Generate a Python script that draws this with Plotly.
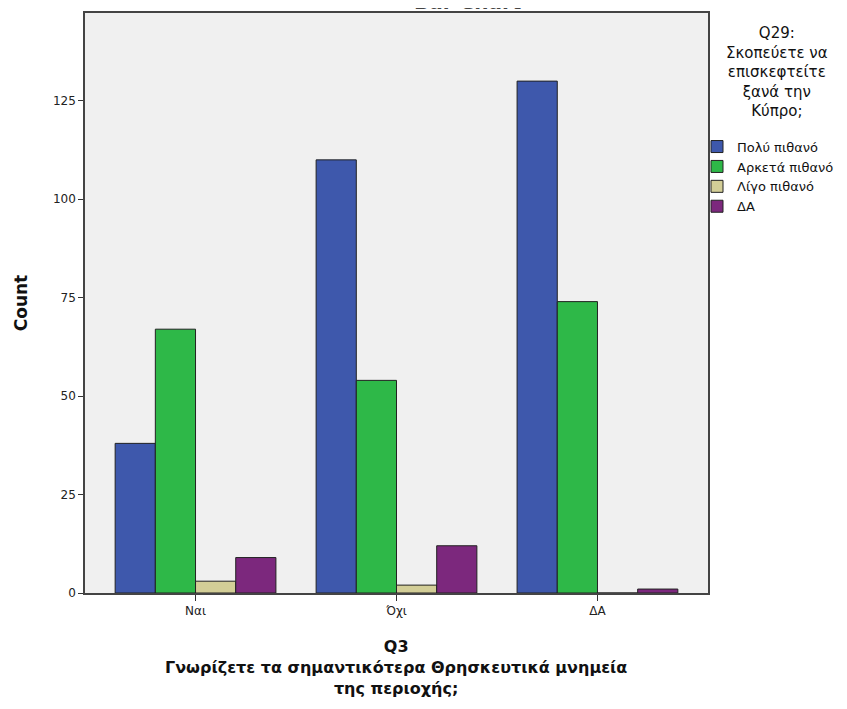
import plotly.graph_objects as go

categories = ["Ναι", "Όχι", "ΔΑ"]
series_names = ["Πολύ πιθανό", "Αρκετά πιθανό", "Λίγο πιθανό", "ΔΑ"]
very_likely = [38, 110, 130]
quite_likely = [67, 54, 74]
little_likely = [3, 2, 0]
dont_know = [9, 12, 1]
series_values = [very_likely, quite_likely, little_likely, dont_know]
colors = ["#3E58AC", "#2EB848", "#D3CE97", "#7C287D"]
y_ticks = [0, 25, 50, 75, 100, 125]
x_title = "Q3<br>Γνωρίζετε τα σημαντικότερα Θρησκευτικά μνημεία<br>της περιοχής;"
legend_title = "Q29:<br>Σκοπεύετε να<br>επισκεφτείτε<br>ξανά την<br>Κύπρο;"

FONT = "DejaVu Sans, Liberation Sans, Arial, sans-serif"

fig = go.Figure()
for name, vals, col in zip(series_names, series_values, colors):
    fig.add_trace(go.Bar(
        x=categories, y=vals, name=name,
        marker=dict(color=col, line=dict(color="#222222", width=1)),
    ))

# the page body adds an 8px offset; figure coords = page coords - 8
OFF = 8
W, H = 847 - OFF, 709 - OFF
L, T = 85 - OFF, 11 - OFF
R = W - (708 - OFF)
B = H - (593 - OFF)
plot_w = W - L - R
plot_h = H - T - B


def py(page_y):
    """page y pixel -> paper y"""
    return 1 - (page_y - OFF - T) / plot_h


def px(page_x):
    return (page_x - OFF - L) / plot_w


fig.update_layout(
    width=W, height=H,
    margin=dict(l=L, r=R, t=T, b=B, pad=0),
    barmode="group", bargap=0.2, bargroupgap=0,
    plot_bgcolor="#F0F0F0", paper_bgcolor="white",
    font=dict(family=FONT, size=12, color="#222222"),
    showlegend=True,
    legend=dict(
        x=px(697), xanchor="left",
        y=py(130), yanchor="top",
        font=dict(family=FONT, size=13, color="#111111"),
        bgcolor="rgba(0,0,0,0)", borderwidth=0,
        tracegroupgap=0, itemclick=False,
    ),
    xaxis=dict(
        range=[-0.55, 2.55], showgrid=False, zeroline=False,
        showline=True, linecolor="#444444", linewidth=1.5, mirror=True,
        ticks="outside", ticklen=6, tickcolor="#333333", tickwidth=1,
        tickfont=dict(family=FONT, size=12, color="#222222"),
    ),
    yaxis=dict(
        range=[0, 147.3], tickvals=y_ticks, showgrid=False, zeroline=False,
        showline=True, linecolor="#444444", linewidth=1.5, mirror=True,
        ticks="outside", ticklen=5, tickcolor="#333333", tickwidth=1,
        tickfont=dict(family=FONT, size=12, color="#222222"),
        title=dict(text="<b>Count</b>", font=dict(family=FONT, size=17, color="#111111"), standoff=21),
    ),
)

# x-axis title (three lines)
fig.add_annotation(
    text=f"<b>{x_title}</b>", xref="paper", yref="paper",
    x=px(396), y=py(636), xanchor="center", yanchor="top",
    showarrow=False, align="center", borderpad=0,
    font=dict(family=FONT, size=16, color="#111111"),
)

# chart title, mostly clipped at the top edge as in the reference
fig.add_annotation(
    text="<b>Bar Chart</b>", xref="paper", yref="paper",
    x=px(468), y=1 + (T - 6) / plot_h,
    xanchor="center", yanchor="bottom", showarrow=False,
    font=dict(family=FONT, size=20, color="#444444"),
)

# legend title
fig.add_annotation(
    text=legend_title,
    xref="paper", yref="paper",
    x=px(777), y=py(20),
    xanchor="center", yanchor="top", showarrow=False, align="center",
    font=dict(family=FONT, size=15, color="#111111"),
)

fig.write_html("out.html")
